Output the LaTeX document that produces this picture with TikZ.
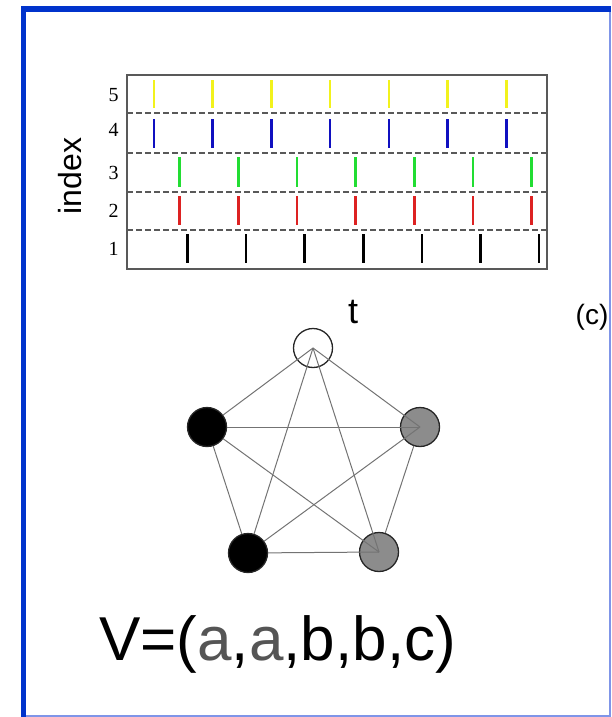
\documentclass[tikz,border=0pt]{standalone}
\usepackage{fontspec}
\setmainfont{Liberation Serif}
\setsansfont{Liberation Sans}
\usetikzlibrary{positioning}
\definecolor{framedark}{HTML}{0033CC}
\definecolor{framelight}{HTML}{7F95E8}
\definecolor{spikeyellow}{HTML}{F2F21C}
\definecolor{spikeblue}{HTML}{1010C0}
\definecolor{spikegreen}{HTML}{22DD33}
\definecolor{spikered}{HTML}{DD2222}
\definecolor{nodegray}{HTML}{8C8C8C}
\definecolor{lettergray}{HTML}{555555}

\begin{document}
\begin{tikzpicture}[
  x=1pt, y=-1pt,
  vtx/.style={circle, draw=black!85, line width=1.3pt, minimum size=39pt, inner sep=0pt},
  edge/.style={draw=black!55, line width=1pt},
  spike/.style={line width=2.6pt},
  rowlab/.style={font=\fontsize{20}{20}\selectfont},
  sans/.style={font=\sffamily\fontsize{#1}{#1}\selectfont}
]
\useasboundingbox (0,0) rectangle (611,717);
% frame
\draw[framelight, line width=1.5pt] (26,716) -- (610,716) -- (610,12);
\fill[framedark] (21,6) rectangle (611,12);
\fill[framedark] (21,6) rectangle (26,717);

% raster plot
\draw[black!65, line width=1.3pt] (127,75) rectangle (547,269);
\foreach \y in {113,153,192,230}
  \draw[black!65, line width=1.2pt, dash pattern=on 6pt off 3pt] (127,\y) -- (547,\y);
\foreach \k in {0,...,6} {
  \draw[spike, spikeyellow] (154+58.7*\k,80) -- (154+58.7*\k,108);
  \draw[spike, spikeblue]   (154+58.7*\k,119) -- (154+58.7*\k,148);
  \draw[spike, spikegreen]  (179.5+58.7*\k,157) -- (179.5+58.7*\k,187);
  \draw[spike, spikered]    (179.5+58.7*\k,196) -- (179.5+58.7*\k,225);
  \draw[spike, black]       (187.5+58.6*\k,234) -- (187.5+58.6*\k,263);
}
\node[rowlab] (r5) at (113.5,95) {5};
\node[rowlab] (r4) at (113.5,130) {4};
\node[rowlab] (r3) at (113.5,172.5) {3};
\node[rowlab] (r2) at (113.5,211) {2};
\node[rowlab] (r1) at (113.5,249) {1};
\node[sans=32, rotate=90] (index) at (70,176) {index};
\node[sans=36] (t) at (353,312) {t};
\node[sans=28, inner sep=0pt] (c) at (592,317) {(c)};

% graph
\node[vtx] (top) at (313,348) {};
\node[vtx, fill=black] (aL) at (207,427) {};
\node[vtx, fill=nodegray] (bR) at (420,427) {};
\node[vtx, fill=black] (aB) at (248,553) {};
\node[vtx, fill=nodegray] (bB) at (379,552) {};
\draw[edge] (aL) -- (top.center);
\draw[edge] (aL) -- (bR.center);
\draw[edge] (aL) -- (aB);
\draw[edge] (aL) -- (bB.center);
\draw[edge] (aB) -- (top.center);
\draw[edge] (aB) -- (bR.center);
\draw[edge] (aB) -- (bB.center);
\draw[edge] (top.center) -- (bR.center);
\draw[edge] (top.center) -- (bB.center);
\draw[edge] (bR) -- (bB);

\node[sans=62, anchor=base west, inner sep=0pt] (vec) at (99,660)
  {V=(\textcolor{lettergray}{a},\textcolor{lettergray}{a},b,b,c)};
\end{tikzpicture}
\end{document}
